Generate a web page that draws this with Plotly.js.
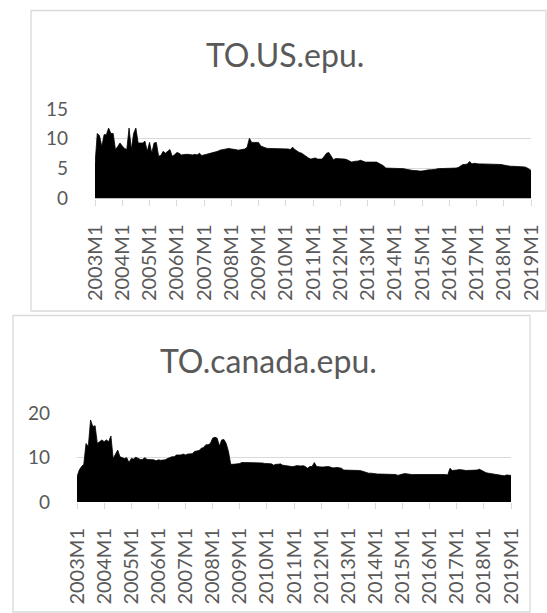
<!DOCTYPE html>
<html>
<head>
<meta charset="utf-8">
<script src="https://cdn.plot.ly/plotly-3.0.1.min.js"></script>
<style>
  html, body { margin: 0; padding: 0; background: #ffffff; }
  #chart { width: 547px; height: 613px; }
</style>
</head>
<body>
<div id="chart"></div>
<script>
// Monthly series, 2003M1 .. 2019M1
const years = [2003, 2004, 2005, 2006, 2007, 2008, 2009, 2010, 2011, 2012, 2013, 2014, 2015, 2016, 2017, 2018, 2019];
const yearTickLabels = ["2003M1", "2004M1", "2005M1", "2006M1", "2007M1", "2008M1", "2009M1", "2010M1",
  "2011M1", "2012M1", "2013M1", "2014M1", "2015M1", "2016M1", "2017M1", "2018M1", "2019M1"];

const usEpu = [
  5.7, 10.9, 10.5, 8.7, 10.7, 10.7, 11.8, 10.9, 10.9, 8.2, 8.7, 9.3,
  8.8, 8.4, 8.2, 11.8, 8.2, 10.9, 11.8, 9.3, 9.3, 9.3, 9.6, 7.9,
  9.4, 7.6, 9.3, 9.4, 7.1, 7.2, 7.9, 7.6, 7.9, 8.2, 7.1, 7.3,
  7.7, 7.6, 7.3, 7.4, 7.4, 7.4, 7.3, 7.3, 7.4, 7.3, 7.6, 7.2,
  7.3, 7.4, 7.5, 7.5, 7.6, 7.7, 7.9, 8.1, 8.2, 8.2, 8.4, 8.4,
  8.3, 8.3, 8.2, 8.1, 8.2, 8.3, 8.3, 8.6, 10.1, 9.4, 9.4, 9.3,
  9.4, 8.8, 8.6, 8.5, 8.4, 8.4, 8.4, 8.3, 8.4, 8.4, 8.4, 8.4,
  8.3, 8.3, 8.2, 8.6, 8.2, 7.9, 7.7, 7.6, 7.3, 7.1, 6.8, 6.6,
  6.7, 6.8, 6.6, 6.6, 6.6, 7.1, 7.6, 7.7, 7.2, 6.5, 6.7, 6.7,
  6.7, 6.7, 6.6, 6.5, 6.3, 6.1, 6.2, 6.2, 6.3, 6.4, 6.2, 6.1,
  6.1, 6.1, 6.1, 6.1, 6.1, 5.9, 5.7, 5.5, 5.1, 5.1, 5.1, 5.1,
  5.0, 5.0, 5.0, 5.0, 5.0, 4.9, 4.8, 4.7, 4.7, 4.7, 4.6, 4.6,
  4.6, 4.7, 4.7, 4.8, 4.8, 4.8, 4.9, 5.0, 5.0, 5.0, 5.0, 5.0,
  5.0, 5.0, 5.1, 5.1, 5.2, 5.4, 5.7, 5.7, 5.8, 6.2, 5.8, 5.9,
  5.8, 5.8, 5.8, 5.8, 5.8, 5.8, 5.8, 5.8, 5.8, 5.8, 5.8, 5.7,
  5.6, 5.5, 5.5, 5.4, 5.4, 5.4, 5.3, 5.3, 5.3, 5.3, 5.2, 5.0,
  4.7
];

const canadaEpu = [
  5.7, 7.2, 8.0, 8.5, 13.2, 12.5, 18.5, 17.0, 17.2, 13.2, 13.6, 14.0,
  13.6, 14.0, 13.6, 14.9, 9.8, 10.6, 11.7, 10.2, 10.0, 9.8, 10.0, 8.9,
  9.8, 9.7, 10.1, 9.8, 9.6, 9.6, 10.0, 9.6, 9.6, 9.5, 9.5, 9.3,
  9.5, 9.4, 9.5, 9.5, 9.8, 10.0, 10.2, 10.2, 10.6, 10.6, 10.6, 10.8,
  10.6, 10.8, 10.8, 10.9, 11.4, 11.5, 11.6, 12.1, 12.3, 12.9, 12.9, 13.2,
  14.4, 14.6, 14.4, 12.6, 14.0, 14.1, 13.2, 11.4, 8.5, 8.5, 8.5, 8.6,
  8.7, 8.9, 8.9, 8.9, 8.9, 8.9, 8.9, 8.9, 8.8, 8.8, 8.8, 8.7,
  8.7, 8.7, 8.6, 8.3, 8.5, 8.5, 8.6, 8.3, 8.2, 8.1, 8.1, 8.0,
  8.0, 8.2, 8.2, 8.1, 8.2, 8.0, 7.6, 8.0, 8.0, 8.9, 8.0, 7.9,
  7.9, 7.9, 8.0, 8.0, 7.9, 7.7, 7.7, 7.8, 7.7, 7.6, 7.2, 7.2,
  7.1, 7.1, 7.1, 7.1, 7.1, 7.1, 7.0, 6.8, 6.6, 6.5, 6.5, 6.4,
  6.4, 6.3, 6.3, 6.3, 6.2, 6.2, 6.2, 6.2, 6.2, 6.2, 6.0, 6.2,
  6.3, 6.4, 6.3, 6.3, 6.2, 6.2, 6.2, 6.2, 6.2, 6.2, 6.2, 6.2,
  6.2, 6.2, 6.2, 6.2, 6.3, 6.3, 6.2, 6.2, 6.1, 7.6, 7.1, 7.1,
  7.2, 7.3, 7.3, 7.2, 7.1, 7.1, 7.2, 7.2, 7.2, 7.2, 7.4, 7.1,
  6.8, 6.6, 6.5, 6.4, 6.3, 6.2, 6.2, 6.0, 5.9, 5.9, 6.1, 6.1,
  6.0
];

const chartTitles = ["TO.US.epu.", "TO.canada.epu."];

// Category labels "YYYYMm" for every month in the series
const months = [];
years.forEach(function (y) {
  for (let m = 1; m <= 12; m++) {
    if (months.length < usEpu.length) months.push(y + "M" + m);
  }
});

// Page geometry in pixels (figure is 547 x 613 with zero margins)
const W = 547, H = 613;
const px = function (x) { return x / W; };
const py = function (y) { return 1 - y / H; };

const FONT = "Lato, 'Open Sans', sans-serif";
const TEXT = "#595959";
const GRID = "#d9d9d9";

function areaTrace(values, xa, ya) {
  return {
    type: "scatter",
    mode: "lines",
    x: months,
    y: values,
    xaxis: xa,
    yaxis: ya,
    fill: "tozeroy",
    fillcolor: "#000000",
    line: { color: "#000000", width: 0.8 },
    hoverinfo: "skip",
    showlegend: false
  };
}

function xAxis(domain, anchor) {
  return {
    type: "category",
    domain: domain,
    anchor: anchor,
    range: [0, months.length - 1],
    tickmode: "array",
    tickvals: yearTickLabels,
    ticktext: yearTickLabels,
    tickangle: -90,
    ticks: "outside",
    ticklen: 6,
    tickwidth: 1,
    tickcolor: GRID,
    ticklabelstandoff: 11,
    tickfont: { family: FONT, size: 20, color: TEXT },
    showgrid: false,
    showline: false,
    zeroline: false,
    fixedrange: true
  };
}

function yAxis(domain, anchor, maxVal, step) {
  return {
    domain: domain,
    anchor: anchor,
    range: [0, maxVal],
    tickmode: "linear",
    tick0: 0,
    dtick: step,
    showgrid: true,
    gridcolor: GRID,
    gridwidth: 1.3,
    zeroline: false,
    showline: false,
    ticks: "",
    ticklabelstandoff: 26,
    tickfont: { family: FONT, size: 19, color: TEXT },
    fixedrange: true
  };
}

const data = [
  areaTrace(usEpu, "x", "y"),
  areaTrace(canadaEpu, "x2", "y2")
];

const layout = {
  width: W,
  height: H,
  margin: { l: 0, r: 0, t: 0, b: 0 },
  paper_bgcolor: "#ffffff",
  plot_bgcolor: "rgba(0,0,0,0)",
  showlegend: false,
  xaxis: xAxis([px(95), px(531)], "y"),
  yaxis: yAxis([py(198.5), py(109)], "x", 15, 5),
  xaxis2: xAxis([px(77), px(511)], "y2"),
  yaxis2: yAxis([py(502), py(413.3)], "x2", 20, 10),
  shapes: [
    { type: "rect", xref: "paper", yref: "paper", x0: px(31), x1: px(546), y0: py(311), y1: py(10.5),
      line: { color: GRID, width: 1.3 }, fillcolor: "rgba(0,0,0,0)", layer: "below" },
    { type: "rect", xref: "paper", yref: "paper", x0: px(13), x1: px(530), y0: py(612), y1: py(315.5),
      line: { color: GRID, width: 1.3 }, fillcolor: "rgba(0,0,0,0)", layer: "below" }
  ],
  annotations: [
    { text: chartTitles[0], xref: "paper", yref: "paper", x: px(285), y: py(55),
      xanchor: "center", yanchor: "middle", showarrow: false,
      font: { family: FONT, size: 32, color: TEXT } },
    { text: chartTitles[1], xref: "paper", yref: "paper", x: px(268), y: py(360),
      xanchor: "center", yanchor: "middle", showarrow: false,
      font: { family: FONT, size: 32, color: TEXT } }
  ]
};

Plotly.newPlot("chart", data, layout, { displayModeBar: false, staticPlot: true });
</script>
</body>
</html>
